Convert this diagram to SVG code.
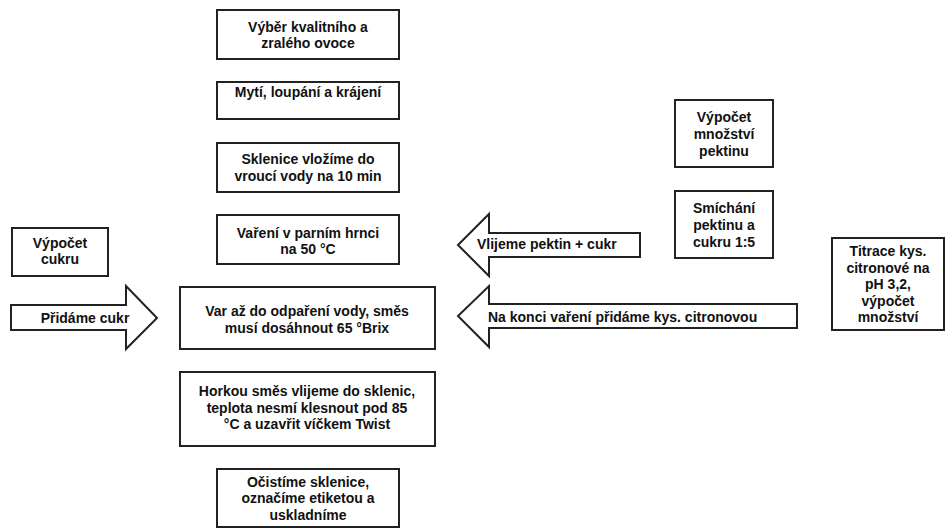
<svg xmlns="http://www.w3.org/2000/svg" width="946" height="529" viewBox="0 0 946 529">
<style>
.b{fill:#fff;stroke:#222;stroke-width:2}
.t{font-family:"Liberation Sans",Arial,sans-serif;font-weight:bold;font-size:14px;fill:#111;text-anchor:middle}
.l{text-anchor:start}
</style>
<rect width="946" height="529" fill="#fff"/>
<g id="connectors">
<g id="arrow-pridame">
<path class="b" d="M11,305 H126 V286 L157,318 L126,349 V330 H11 Z"/>
<text class="t" x="85" y="323">Přidáme cukr</text>
</g>
<g id="arrow-vlijeme">
<path class="b" d="M640,233 H489 V214 L458,245 L489,276 V257 H640 Z"/>
<text class="t l" x="477" y="249">Vlijeme pektin + cukr</text>
</g>
<g id="arrow-nakonci">
<path class="b" d="M797,304 H489 V286 L458,316 L489,347 V328 H797 Z"/>
<text class="t l" x="488" y="322">Na konci vaření přidáme kys. citronovou</text>
</g>
</g>
<g id="n1"><rect class="b" x="217" y="10" width="182" height="49"/>
<text class="t" x="308" y="32">Výběr kvalitního a</text><text class="t" x="308" y="48">zralého ovoce</text></g>
<g id="n2"><rect class="b" x="217" y="82" width="182" height="37"/>
<text class="t" x="308" y="97">Mytí, loupání a krájení</text></g>
<g id="n3"><rect class="b" x="217" y="143" width="182" height="49"/>
<text class="t" x="308" y="164">Sklenice vložíme do</text><text class="t" x="308" y="181">vroucí vody na 10 min</text></g>
<g id="n4"><rect class="b" x="217" y="215" width="182" height="49"/>
<text class="t" x="308" y="238">Vaření v parním hrnci</text><text class="t" x="308" y="254">na 50 °C</text></g>
<g id="n5"><rect class="b" x="180" y="287" width="255" height="62"/>
<text class="t" x="307" y="316">Var až do odpaření vody, směs</text><text class="t" x="307" y="333">musí dosáhnout 65 °Brix</text></g>
<g id="n6"><rect class="b" x="180" y="372" width="255" height="74"/>
<text class="t" x="307" y="396">Horkou směs vlijeme do sklenic,</text><text class="t" x="307" y="412.5">teplota nesmí klesnout pod 85</text><text class="t" x="307" y="429">°C a uzavřit víčkem Twist</text></g>
<g id="n7"><rect class="b" x="217" y="469" width="182" height="58"/>
<text class="t" x="308" y="487">Očistíme sklenice,</text><text class="t" x="308" y="503">označíme etiketou a</text><text class="t" x="308" y="520">uskladníme</text></g>
<g id="n8"><rect class="b" x="12" y="228" width="96" height="48"/>
<text class="t" x="60" y="248">Výpočet</text><text class="t" x="60" y="264">cukru</text></g>
<g id="n9"><rect class="b" x="675" y="100" width="98" height="67"/>
<text class="t" x="724" y="122">Výpočet</text><text class="t" x="724" y="139">množství</text><text class="t" x="724" y="156">pektinu</text></g>
<g id="n10"><rect class="b" x="675" y="191" width="98" height="67"/>
<text class="t" x="724" y="213">Smíchání</text><text class="t" x="724" y="230">pektinu a</text><text class="t" x="724" y="247">cukru 1:5</text></g>
<g id="n11"><rect class="b" x="832" y="238" width="112" height="92"/>
<text class="t" x="888" y="256">Titrace kys.</text><text class="t" x="888" y="272.5">citronové na</text><text class="t" x="888" y="289">pH 3,2,</text><text class="t" x="888" y="305.5">výpočet</text><text class="t" x="888" y="322">množství</text></g>
</svg>
